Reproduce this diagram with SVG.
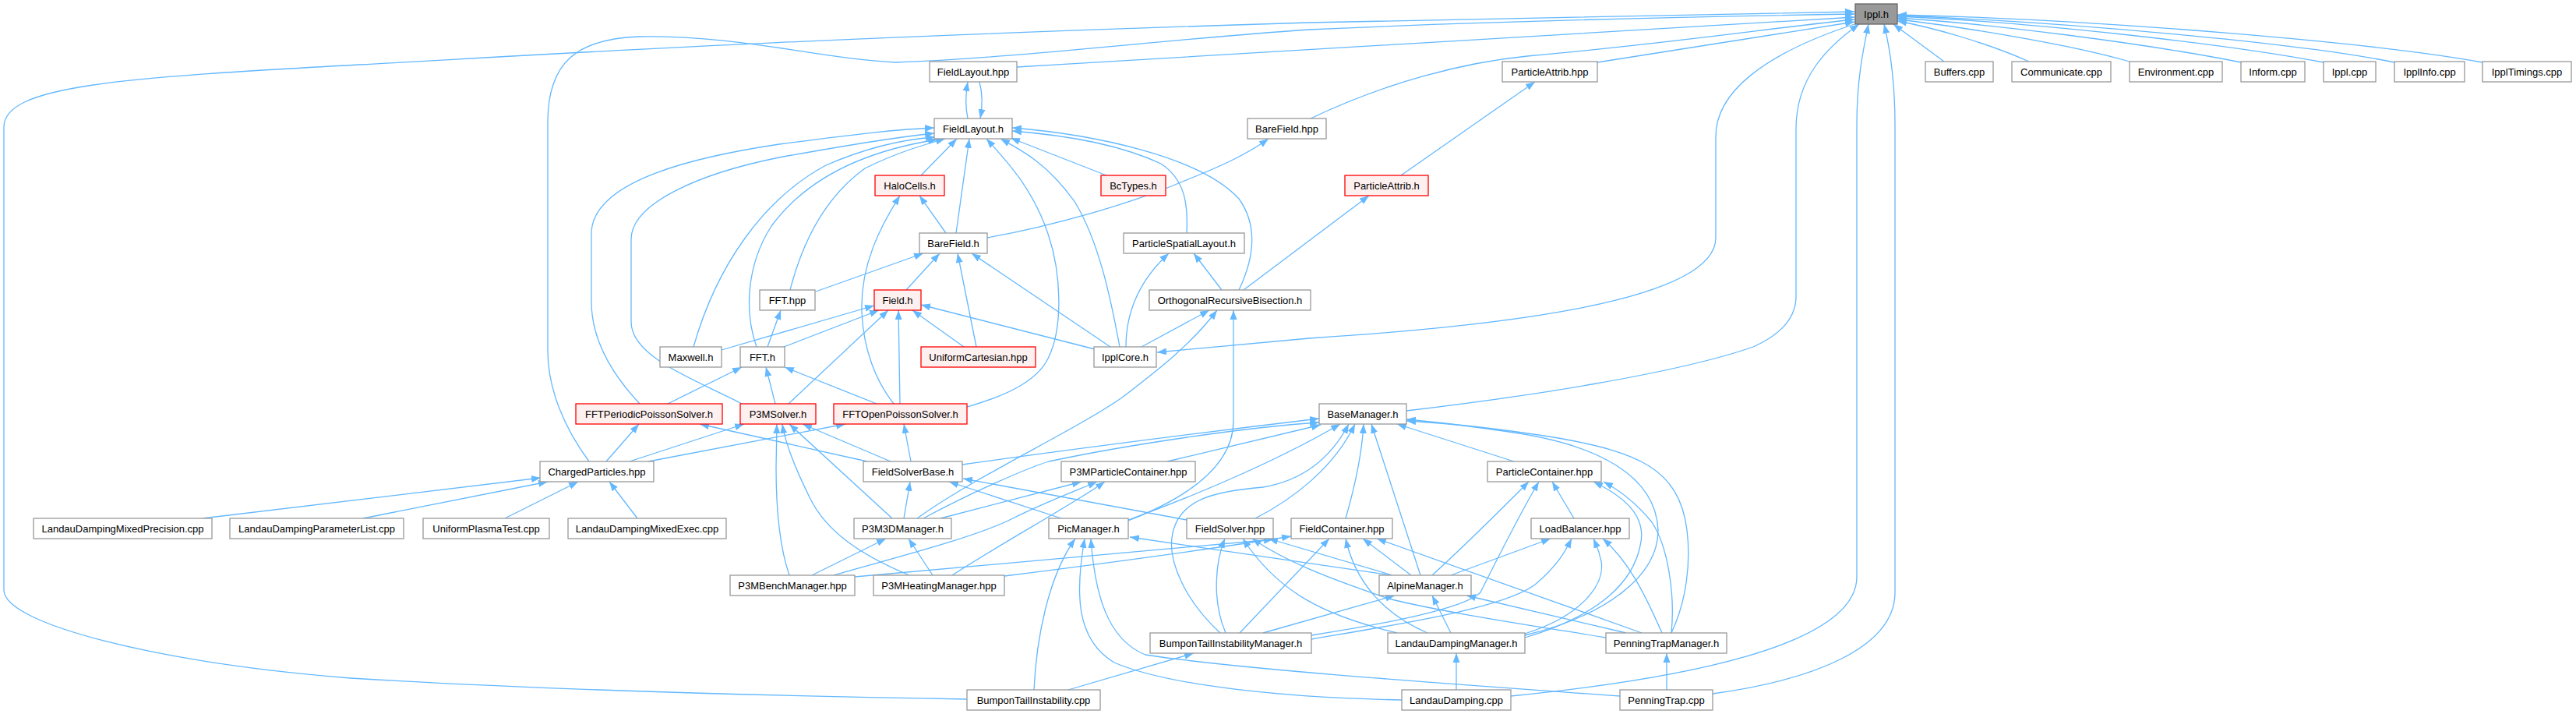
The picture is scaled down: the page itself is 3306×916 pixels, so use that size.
<svg xmlns="http://www.w3.org/2000/svg" width="3306" height="916" viewBox="0 0 3306 916">
<style>
.e path{fill:none;stroke:#63b8ff;stroke-width:1.3;marker-end:url(#a)}
rect{stroke-width:1.3}
rect.n{fill:#fff;stroke:#999}
rect.r{fill:#fff0f0;stroke:#f00}
rect.g{fill:#999;stroke:#666}
text{font-family:"Liberation Sans",Arial,Helvetica,sans-serif;font-size:13px;text-anchor:middle;fill:#000}
</style>
<defs>
<marker id="a" markerWidth="12" markerHeight="10" refX="12" refY="5" orient="auto" markerUnits="userSpaceOnUse"><path d="M0,0.5 L12,5 L0,9.5 z" fill="#63b8ff"/></marker>
</defs>
<rect width="3306" height="916" fill="#fff"/>
<g class="e" id="edges">
<path d="M1305,86 C1700,62 2100,36 2380,22"/>
<path d="M756,592 C725,550 703,500 703,450 L703,157 C703,80 740,50 820,47 C950,45 1050,75 1150,80 C1300,75 1500,50 1680,38 C1900,28 2200,21 2380,18"/>
<path d="M1241,897 C1000,893 700,885 450,870 C200,850 5,800 5,757 L5,163 C5,110 150,100 461,83 C700,70 1000,50 1680,29 C1950,22 2200,17 2380,15"/>
<path d="M1682,152 C1780,105 1880,80 1960,72 C2150,55 2280,35 2380,25"/>
<path d="M2050,80 L2380,28"/>
<path d="M1805,527 C1950,510 2150,480 2250,445 C2295,425 2305,400 2305,380 L2305,165 C2305,100 2345,60 2386,31"/>
<path d="M2383,30 C2260,70 2202,120 2202,175 L2202,305 C2202,390 1900,420 1680,434 L1485,452"/>
<path d="M1939,893 C2150,872 2383,830 2383,740 L2383,160 C2383,100 2392,60 2398,31"/>
<path d="M2198,890 C2330,872 2432,830 2432,760 L2432,160 C2432,100 2425,60 2418,31"/>
<path d="M2495,79 L2430,31"/>
<path d="M2604,79 C2550,55 2480,35 2435,27"/>
<path d="M2733,79 C2650,55 2500,32 2435,25"/>
<path d="M2876,80 C2750,55 2550,30 2435,23"/>
<path d="M2982,80 C2850,55 2600,28 2435,21"/>
<path d="M3073,80 C2950,55 2650,28 2435,20"/>
<path d="M3186,80 C3050,55 2700,25 2435,19"/>
<path d="M1242,152 C1239,138 1239,122 1242,105"/>
<path d="M1257,105 C1261,120 1261,136 1258,152"/>
<path d="M821,518 C790,485 759,440 759,387 L759,300 C759,230 900,200 1000,185 C1100,172 1150,166 1199,164"/>
<path d="M952,518 C900,490 810,460 810,413 L810,307 C810,260 900,222 1000,202 C1100,184 1160,175 1199,171"/>
<path d="M890,445 C920,340 980,255 1060,212 C1120,186 1170,178 1200,176"/>
<path d="M971,445 C955,400 958,340 990,290 C1040,222 1120,192 1203,179"/>
<path d="M1014,372 C1030,310 1060,252 1110,216 C1150,196 1185,186 1213,178"/>
<path d="M1182,225 L1228,178"/>
<path d="M1227,299 L1244,178"/>
<path d="M1241,522 C1290,508 1330,490 1345,460 C1365,420 1362,350 1345,300 C1325,240 1290,205 1266,178"/>
<path d="M1437,445 C1425,380 1410,310 1380,260 C1345,210 1310,192 1284,178"/>
<path d="M1420,225 L1297,177"/>
<path d="M1523,299 C1525,260 1520,230 1490,210 C1430,182 1350,172 1299,168"/>
<path d="M1590,372 C1610,330 1615,290 1590,255 C1540,200 1400,172 1299,164"/>
<path d="M1267,305 C1350,290 1450,262 1520,232 C1570,212 1600,198 1628,178"/>
<path d="M1214,299 L1180,251"/>
<path d="M1147,518 C1125,490 1108,450 1106,400 C1104,340 1130,290 1155,251"/>
<path d="M1445,445 C1445,400 1462,360 1500,325"/>
<path d="M1568,372 L1532,325"/>
<path d="M1798,225 L1970,105"/>
<path d="M1596,372 L1757,251"/>
<path d="M1047,374 L1185,325"/>
<path d="M1163,372 L1206,325"/>
<path d="M1253,445 L1229,325"/>
<path d="M1425,445 L1247,325"/>
<path d="M985,445 L1002,398"/>
<path d="M926,449 L1122,392"/>
<path d="M1006,445 L1128,398"/>
<path d="M1012,518 L1140,398"/>
<path d="M1155,518 L1153,398"/>
<path d="M1237,445 L1171,398"/>
<path d="M1405,448 L1182,391"/>
<path d="M1465,445 L1552,398"/>
<path d="M1177,665 C1250,612 1380,552 1440,510 C1490,472 1530,440 1562,398"/>
<path d="M1448,668 C1520,640 1583,600 1583,540 L1583,398"/>
<path d="M1235,596 C1350,580 1500,560 1693,537"/>
<path d="M1185,665 C1250,630 1320,600 1346,592 C1450,570 1600,548 1693,542"/>
<path d="M1498,592 L1695,545"/>
<path d="M1448,667 C1550,630 1650,585 1720,544"/>
<path d="M1566,812 C1520,770 1500,720 1504,690 C1510,640 1560,630 1621,625 C1680,615 1712,580 1731,544"/>
<path d="M1611,665 C1660,640 1712,600 1739,544"/>
<path d="M1727,665 C1740,620 1748,580 1750,544"/>
<path d="M1823,738 L1760,544"/>
<path d="M1943,592 L1793,544"/>
<path d="M1957,815 C2060,790 2128,740 2128,680 C2125,610 2050,572 1950,556 C1890,547 1850,542 1805,538"/>
<path d="M2145,812 C2165,770 2170,720 2165,680 C2155,600 2100,580 2000,562 C1920,549 1860,543 1805,540"/>
<path d="M1160,665 L1168,618"/>
<path d="M1362,665 L1218,618"/>
<path d="M1523,667 L1236,614"/>
<path d="M778,592 L820,544"/>
<path d="M1113,592 L898,544"/>
<path d="M808,592 L955,544"/>
<path d="M1143,592 L1030,544"/>
<path d="M1145,665 L1013,544"/>
<path d="M1013,738 C1000,700 996,650 996,600 L997,544"/>
<path d="M1167,738 C1100,710 1060,680 1040,640 C1020,600 1008,570 1004,544"/>
<path d="M832,592 L1085,544"/>
<path d="M1169,592 L1160,544"/>
<path d="M857,518 L952,471"/>
<path d="M995,518 L983,471"/>
<path d="M1125,518 L1007,471"/>
<path d="M260,665 L694,613"/>
<path d="M466,665 L703,618"/>
<path d="M648,665 L742,618"/>
<path d="M818,665 L782,618"/>
<path d="M1042,738 L1137,691"/>
<path d="M1197,738 L1166,691"/>
<path d="M1207,665 L1388,618"/>
<path d="M1070,738 C1150,715 1250,690 1300,665 C1340,645 1380,630 1408,618"/>
<path d="M1222,738 C1280,700 1380,645 1418,618"/>
<path d="M1327,885 C1330,820 1345,740 1380,691"/>
<path d="M1799,898 C1650,895 1500,880 1430,850 C1380,820 1380,760 1392,691"/>
<path d="M2079,893 C1900,880 1600,860 1470,840 C1420,820 1405,760 1400,691"/>
<path d="M1786,738 L1450,689"/>
<path d="M1573,812 C1555,770 1560,720 1572,691"/>
<path d="M1793,812 C1700,790 1640,760 1595,691"/>
<path d="M2061,818 C1950,800 1850,785 1782,768 C1700,740 1650,720 1607,691"/>
<path d="M1787,738 L1628,691"/>
<path d="M1097,740 C1300,722 1500,705 1634,692"/>
<path d="M1289,739 C1400,725 1550,705 1657,688"/>
<path d="M1591,812 L1706,691"/>
<path d="M1832,812 C1780,790 1740,750 1727,691"/>
<path d="M1811,738 L1749,691"/>
<path d="M2107,812 L1767,691"/>
<path d="M1838,738 C1880,700 1930,650 1962,618"/>
<path d="M1683,815 C1780,800 1880,780 1900,760 C1920,720 1950,660 1975,618"/>
<path d="M2020,665 L1992,618"/>
<path d="M1957,818 C2050,790 2095,750 2105,700 C2115,660 2080,635 2045,618"/>
<path d="M2145,812 C2150,760 2140,700 2120,670 C2100,645 2080,630 2058,618"/>
<path d="M1862,738 L1990,691"/>
<path d="M1683,820 C1800,800 1930,780 1970,750 C2000,725 2010,705 2017,691"/>
<path d="M1957,813 C2030,790 2060,750 2055,720 C2052,705 2048,698 2045,691"/>
<path d="M2133,812 C2110,760 2090,720 2057,691"/>
<path d="M1621,812 L1790,764"/>
<path d="M1862,812 L1838,764"/>
<path d="M2087,812 L1882,764"/>
<path d="M1371,885 L1532,838"/>
<path d="M1869,885 L1869,838"/>
<path d="M2139,885 L2139,838"/>
</g>
<g id="n_ippl_h"><rect class="g" x="2381" y="5" width="54" height="26"/><text x="2408" y="23">Ippl.h</text></g>
<g id="n_fieldlayout_hpp"><rect class="n" x="1193" y="79" width="112" height="26"/><text x="1249" y="97">FieldLayout.hpp</text></g>
<g id="n_particleattrib_hpp"><rect class="n" x="1928" y="79" width="122" height="26"/><text x="1989" y="97">ParticleAttrib.hpp</text></g>
<g id="n_buffers_cpp"><rect class="n" x="2471" y="79" width="87" height="26"/><text x="2514.5" y="97">Buffers.cpp</text></g>
<g id="n_communicate_cpp"><rect class="n" x="2582" y="79" width="127" height="26"/><text x="2645.5" y="97">Communicate.cpp</text></g>
<g id="n_environment_cpp"><rect class="n" x="2733" y="79" width="119" height="26"/><text x="2792.5" y="97">Environment.cpp</text></g>
<g id="n_inform_cpp"><rect class="n" x="2876" y="79" width="82" height="26"/><text x="2917" y="97">Inform.cpp</text></g>
<g id="n_ippl_cpp"><rect class="n" x="2982" y="79" width="67" height="26"/><text x="3015.5" y="97">Ippl.cpp</text></g>
<g id="n_acpplinfo_cpp"><rect class="n" x="3073" y="79" width="90" height="26"/><text x="3118" y="97">IpplInfo.cpp</text></g>
<g id="n_ippltimings_cpp"><rect class="n" x="3186" y="79" width="114" height="26"/><text x="3243" y="97">IpplTimings.cpp</text></g>
<g id="n_fieldlayout_h"><rect class="n" x="1199" y="152" width="100" height="26"/><text x="1249" y="170">FieldLayout.h</text></g>
<g id="n_barefield_hpp"><rect class="n" x="1601" y="152" width="101" height="26"/><text x="1651.5" y="170">BareField.hpp</text></g>
<g id="n_halocells_h"><rect class="r" x="1123" y="225" width="89" height="26"/><text x="1167.5" y="243">HaloCells.h</text></g>
<g id="n_bctypes_h"><rect class="r" x="1413" y="225" width="83" height="26"/><text x="1454.5" y="243">BcTypes.h</text></g>
<g id="n_particleattrib_h"><rect class="r" x="1726" y="225" width="107" height="26"/><text x="1779.5" y="243">ParticleAttrib.h</text></g>
<g id="n_barefield_h"><rect class="n" x="1180" y="299" width="87" height="26"/><text x="1223.5" y="317">BareField.h</text></g>
<g id="n_particlespatiallayout_h"><rect class="n" x="1442" y="299" width="155" height="26"/><text x="1519.5" y="317">ParticleSpatialLayout.h</text></g>
<g id="n_fft_hpp"><rect class="n" x="975" y="372" width="71" height="26"/><text x="1010.5" y="390">FFT.hpp</text></g>
<g id="n_field_h"><rect class="r" x="1122" y="372" width="60" height="26"/><text x="1152" y="390">Field.h</text></g>
<g id="n_orb_h"><rect class="n" x="1475" y="372" width="207" height="26"/><text x="1578.5" y="390">OrthogonalRecursiveBisection.h</text></g>
<g id="n_maxwell_h"><rect class="n" x="847" y="445" width="79" height="26"/><text x="886.5" y="463">Maxwell.h</text></g>
<g id="n_fft_h"><rect class="n" x="950" y="445" width="57" height="26"/><text x="978.5" y="463">FFT.h</text></g>
<g id="n_uniformcartesian_hpp"><rect class="r" x="1182" y="445" width="147" height="26"/><text x="1255.5" y="463">UniformCartesian.hpp</text></g>
<g id="n_ipplcore_h"><rect class="n" x="1404" y="445" width="80" height="26"/><text x="1444" y="463">IpplCore.h</text></g>
<g id="n_fftperiodicpoissonsolver_h"><rect class="r" x="739" y="518" width="188" height="26"/><text x="833" y="536">FFTPeriodicPoissonSolver.h</text></g>
<g id="n_p3msolver_h"><rect class="r" x="950" y="518" width="97" height="26"/><text x="998.5" y="536">P3MSolver.h</text></g>
<g id="n_fftopenpoissonsolver_h"><rect class="r" x="1070" y="518" width="171" height="26"/><text x="1155.5" y="536">FFTOpenPoissonSolver.h</text></g>
<g id="n_basemanager_h"><rect class="n" x="1693" y="518" width="112" height="26"/><text x="1749" y="536">BaseManager.h</text></g>
<g id="n_chargedparticles_hpp"><rect class="n" x="693" y="592" width="146" height="26"/><text x="766" y="610">ChargedParticles.hpp</text></g>
<g id="n_fieldsolverbase_h"><rect class="n" x="1108" y="592" width="127" height="26"/><text x="1171.5" y="610">FieldSolverBase.h</text></g>
<g id="n_p3mparticlecontainer_hpp"><rect class="n" x="1362" y="592" width="172" height="26"/><text x="1448" y="610">P3MParticleContainer.hpp</text></g>
<g id="n_particlecontainer_hpp"><rect class="n" x="1909" y="592" width="146" height="26"/><text x="1982" y="610">ParticleContainer.hpp</text></g>
<g id="n_ldmixedprecision_cpp"><rect class="n" x="43" y="665" width="229" height="26"/><text x="157.5" y="683">LandauDampingMixedPrecision.cpp</text></g>
<g id="n_ldparameterlist_cpp"><rect class="n" x="295" y="665" width="223" height="26"/><text x="406.5" y="683">LandauDampingParameterList.cpp</text></g>
<g id="n_uniformplasmatest_cpp"><rect class="n" x="543" y="665" width="162" height="26"/><text x="624" y="683">UniformPlasmaTest.cpp</text></g>
<g id="n_ldmixedexec_cpp"><rect class="n" x="729" y="665" width="203" height="26"/><text x="830.5" y="683">LandauDampingMixedExec.cpp</text></g>
<g id="n_p3m3dmanager_h"><rect class="n" x="1096" y="665" width="125" height="26"/><text x="1158.5" y="683">P3M3DManager.h</text></g>
<g id="n_picmanager_h"><rect class="n" x="1346" y="665" width="102" height="26"/><text x="1397" y="683">PicManager.h</text></g>
<g id="n_fieldsolver_hpp"><rect class="n" x="1523" y="665" width="111" height="26"/><text x="1578.5" y="683">FieldSolver.hpp</text></g>
<g id="n_fieldcontainer_hpp"><rect class="n" x="1657" y="665" width="130" height="26"/><text x="1722" y="683">FieldContainer.hpp</text></g>
<g id="n_loadbalancer_hpp"><rect class="n" x="1965" y="665" width="126" height="26"/><text x="2028" y="683">LoadBalancer.hpp</text></g>
<g id="n_p3mbenchmanager_hpp"><rect class="n" x="937" y="738" width="160" height="26"/><text x="1017" y="756">P3MBenchManager.hpp</text></g>
<g id="n_p3mheatingmanager_hpp"><rect class="n" x="1121" y="738" width="168" height="26"/><text x="1205" y="756">P3MHeatingManager.hpp</text></g>
<g id="n_alpinemanager_h"><rect class="n" x="1770" y="738" width="118" height="26"/><text x="1829" y="756">AlpineManager.h</text></g>
<g id="n_bumpontailinstabilitymanager_h"><rect class="n" x="1476" y="812" width="207" height="26"/><text x="1579.5" y="830">BumponTailInstabilityManager.h</text></g>
<g id="n_landaudampingmanager_h"><rect class="n" x="1781" y="812" width="176" height="26"/><text x="1869" y="830">LandauDampingManager.h</text></g>
<g id="n_penningtrapmanager_h"><rect class="n" x="2061" y="812" width="155" height="26"/><text x="2138.5" y="830">PenningTrapManager.h</text></g>
<g id="n_bumpontailinstability_cpp"><rect class="n" x="1241" y="885" width="171" height="26"/><text x="1326.5" y="903">BumponTailInstability.cpp</text></g>
<g id="n_landaudamping_cpp"><rect class="n" x="1799" y="885" width="140" height="26"/><text x="1869" y="903">LandauDamping.cpp</text></g>
<g id="n_penningtrap_cpp"><rect class="n" x="2079" y="885" width="119" height="26"/><text x="2138.5" y="903">PenningTrap.cpp</text></g>
</svg>
